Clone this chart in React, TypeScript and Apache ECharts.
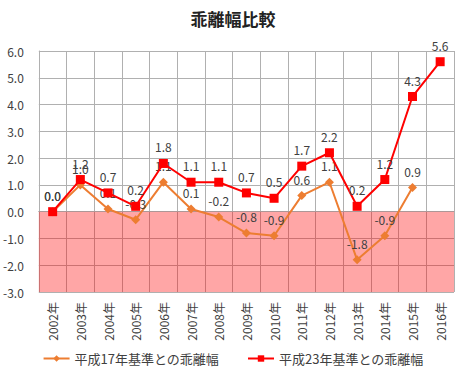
import React, { useEffect, useRef } from "react";
import * as echarts from "echarts";

const categories = ["2002年","2003年","2004年","2005年","2006年","2007年","2008年","2009年","2010年","2011年","2012年","2013年","2014年","2015年","2016年"];
const h17Values: (number | null)[] = [0.0, 1.0, 0.1, -0.3, 1.1, 0.1, -0.2, -0.8, -0.9, 0.6, 1.1, -1.8, -0.9, 0.9, null];
const h23Values: number[] = [0.0, 1.2, 0.7, 0.2, 1.8, 1.1, 1.1, 0.7, 0.5, 1.7, 2.2, 0.2, 1.2, 4.3, 5.6];
const seriesNames = ["平成17年基準との乖離幅", "平成23年基準との乖離幅"];
const titleText = "乖離幅比較";

const FONT = "'Noto Sans CJK JP', 'Noto Sans', sans-serif";

export default function App() {
  const ref = useRef<HTMLDivElement>(null);
  useEffect(() => {
    if (!ref.current) return;
    const chart = echarts.init(ref.current, null, { renderer: "svg" });
    chart.setOption({
      animation: false,
      textStyle: { fontFamily: FONT },
      title: {
        text: titleText,
        left: "center",
        top: 5,
        textStyle: { fontSize: 17, fontWeight: "bold", color: "#222", fontFamily: FONT },
      },
      grid: { left: 38, right: 12, top: 51, bottom: 84 },
      legend: {
        bottom: 6,
        left: "center",
        itemGap: 28,
        itemWidth: 26,
        itemHeight: 8,
        textStyle: { fontSize: 13, color: "#404040", fontFamily: FONT },
        data: [seriesNames[0], seriesNames[1]],
      },
      xAxis: {
        type: "category",
        data: categories,
        boundaryGap: true,
        axisLine: { show: true, lineStyle: { color: "#a6a6a6" } },
        axisTick: { show: false },
        splitLine: { show: true, interval: 0, lineStyle: { color: "#b0b0b0" } },
        axisLabel: { interval: 0, rotate: 90, margin: 10, fontSize: 12, color: "#404040", fontFamily: FONT },
      },
      yAxis: {
        type: "value",
        min: -3,
        max: 6,
        interval: 1,
        axisLine: { show: true, lineStyle: { color: "#b0b0b0" } },
        axisTick: { show: false },
        splitLine: { show: true, lineStyle: { color: "#b0b0b0" } },
        axisLabel: {
          margin: 15,
          fontSize: 12,
          color: "#404040",
          fontFamily: FONT,
          formatter: (v: number) => v.toFixed(1),
        },
      },
      series: [
        {
          name: seriesNames[0],
          type: "line",
          data: h17Values,
          color: "#ED7D31",
          symbol: "diamond",
          symbolSize: 9,
          lineStyle: { width: 2, color: "#ED7D31" },
          itemStyle: { color: "#ED7D31" },
          label: {
            show: true,
            position: "top",
            distance: 6,
            fontSize: 12,
            color: "#404040",
            fontFamily: FONT,
            formatter: (p: any) => (p.value == null ? "" : Number(p.value).toFixed(1)),
          },
          markArea: {
            silent: true,
            itemStyle: { color: "rgba(255,0,0,0.35)" },
            data: [[{ yAxis: 0 }, { yAxis: -3 }]],
          },
          z: 3,
        },
        {
          name: seriesNames[1],
          type: "line",
          data: h23Values,
          color: "#FF0000",
          symbol: "rect",
          symbolSize: 9,
          lineStyle: { width: 2, color: "#FF0000" },
          itemStyle: { color: "#FF0000" },
          label: {
            show: true,
            position: "top",
            distance: 6,
            fontSize: 12,
            color: "#404040",
            fontFamily: FONT,
            formatter: (p: any) => Number(p.value).toFixed(1),
          },
          z: 4,
        },
      ],
    });
    return () => chart.dispose();
  }, []);
  return <div ref={ref} style={{ width: 466, height: 376, position: "absolute", left: 0, top: 0 }} />;
}
